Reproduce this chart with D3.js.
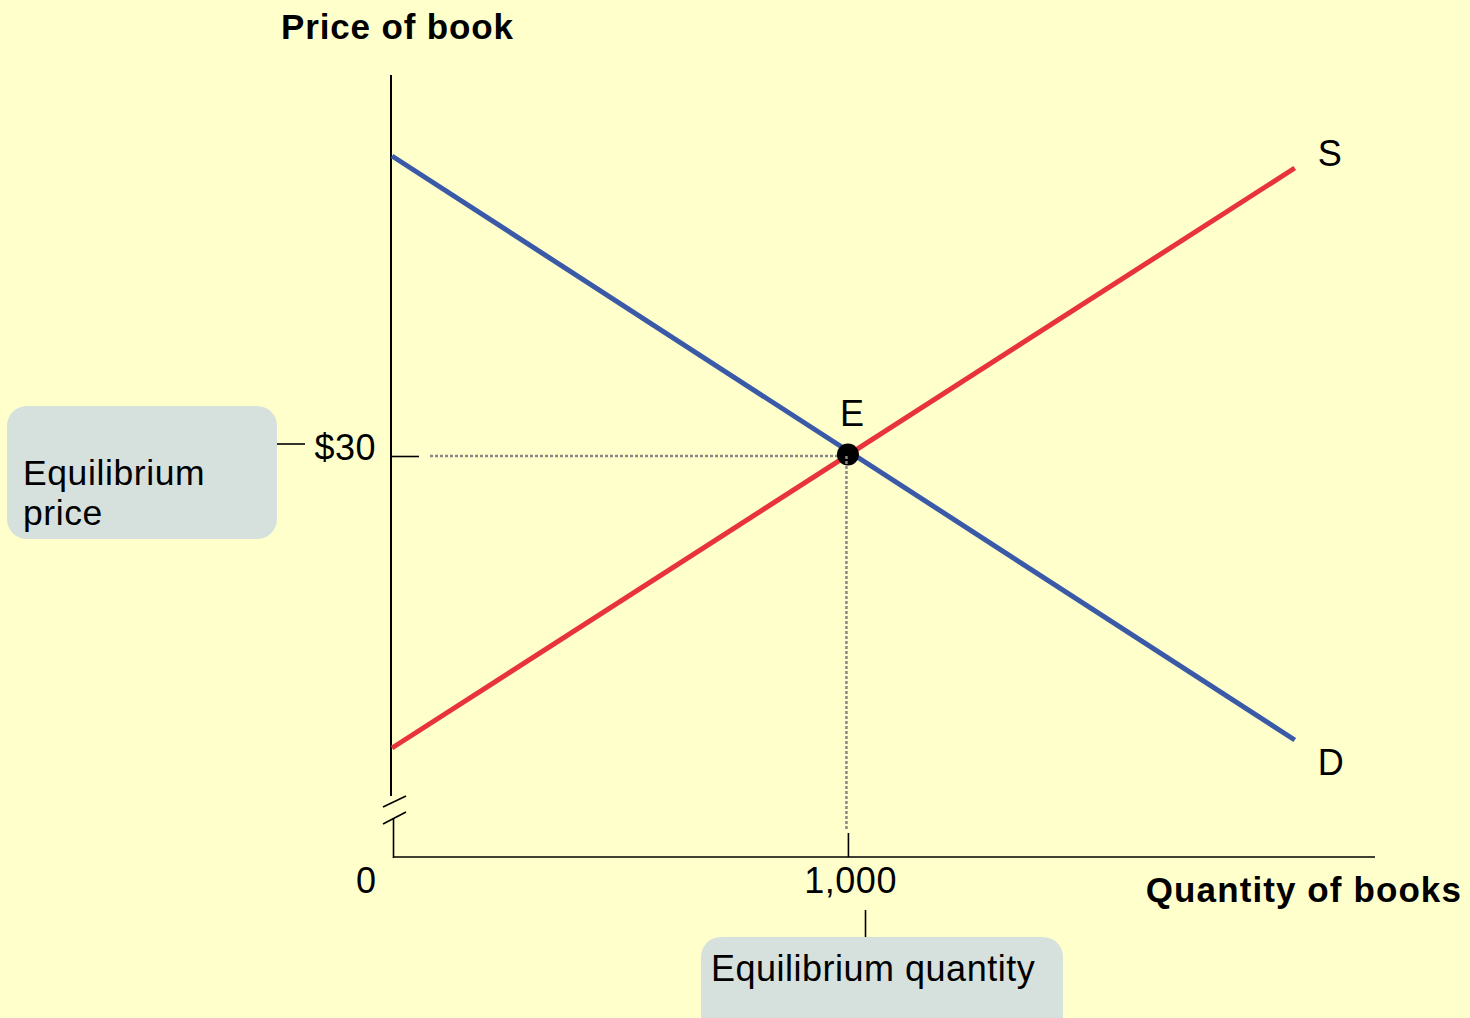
<!DOCTYPE html>
<html>
<head>
<meta charset="utf-8">
<script src="https://cdn.jsdelivr.net/npm/d3@7"></script>
<style>
  html, body { margin: 0; padding: 0; background: #ffffcc; }
  svg { display: block; }
  text { font-family: "Liberation Sans", Arial, Helvetica, sans-serif; }
</style>
</head>
<body>
<svg id="chart" width="1470" height="1018"></svg>
<script>
// ---- data ----
const quantities = [0, 1980];
const demandPrices = [60, 1.6];
const supplyPrices = [0.8, 58.8];
const eqQuantity = 1000;
const eqPrice = 30;
const xTickValues = [1000];
const xTickLabels = ["1,000"];
const yTickValues = [30];
const yTickLabels = ["$30"];
const curveLabels = ["S", "D"];
const axisTitles = ["Price of book", "Quantity of books"];
const calloutLabels = [["Equilibrium", "price"], ["Equilibrium quantity"]];

// ---- layout ----
const W = 1470, H = 1018;
const svg = d3.select("#chart");
svg.append("rect").attr("width", W).attr("height", H).attr("fill", "#ffffcc");

const x = d3.scaleLinear().domain([0, 2156]).range([392, 1375]);
const y = d3.scaleLinear().domain([-10.1, 68.1]).range([857, 75]);
const yAxisX = 391;
const xAxisY = y(-10.1);
const breakY = y(-4);

const FS = 36;
const LS = "0.5px";
const blue = "#3a5aa8", red = "#e8333c";

// y axis (broken)
svg.append("line").attr("x1", yAxisX).attr("x2", yAxisX).attr("y1", y(68.1)).attr("y2", breakY)
  .attr("stroke", "#000").attr("stroke-width", 2);
svg.append("line").attr("x1", yAxisX + 2.5).attr("x2", yAxisX + 2.5).attr("y1", breakY + 22).attr("y2", xAxisY + 1)
  .attr("stroke", "#000").attr("stroke-width", 1.6);
[[-8, 11, 15, 0], [-8, 28, 15, 16]].forEach(b => {
  svg.append("line")
    .attr("x1", yAxisX + b[0]).attr("y1", breakY + b[1])
    .attr("x2", yAxisX + b[2]).attr("y2", breakY + b[3])
    .attr("stroke", "#000").attr("stroke-width", 1.6);
});
// x axis line
svg.append("line").attr("x1", x(0) + 1).attr("x2", x(2156)).attr("y1", xAxisY).attr("y2", xAxisY)
  .attr("stroke", "#000").attr("stroke-width", 1.6);

// axis ticks via d3 axes
const yAxisG = svg.append("g").attr("transform", `translate(${yAxisX},0)`)
  .call(d3.axisLeft(y).tickValues(yTickValues).tickFormat((d, i) => yTickLabels[i]).tickSize(-28).tickPadding(15));
yAxisG.select(".domain").remove();
yAxisG.selectAll(".tick line").attr("stroke", "#000").attr("stroke-width", 1.6);
yAxisG.selectAll(".tick text").attr("font-size", FS).attr("font-family", "Liberation Sans, Arial, sans-serif")
  .attr("letter-spacing", LS).attr("fill", "#000").attr("dy", "0.1em");

const xAxisG = svg.append("g").attr("transform", `translate(0,${xAxisY})`)
  .call(d3.axisBottom(x).tickValues(xTickValues).tickFormat((d, i) => xTickLabels[i]).tickSize(-24).tickPadding(10));
xAxisG.select(".domain").remove();
xAxisG.selectAll(".tick line").attr("stroke", "#000").attr("stroke-width", 1.6);
xAxisG.selectAll(".tick text").attr("font-size", FS).attr("font-family", "Liberation Sans, Arial, sans-serif")
  .attr("letter-spacing", LS).attr("fill", "#000").attr("dx", "0.06em");

svg.append("text").attr("x", x(0) - 26).attr("y", xAxisY + 36).attr("text-anchor", "middle")
  .attr("font-size", FS).text("0");

// axis titles
svg.append("text").attr("x", 281).attr("y", 39).attr("font-size", 35).attr("font-weight", "bold")
  .attr("letter-spacing", "0.85px").text(axisTitles[0]);
svg.append("text").attr("x", 1462).attr("y", 902).attr("text-anchor", "end").attr("font-size", 35)
  .attr("font-weight", "bold").attr("letter-spacing", "1.1px").text(axisTitles[1]);

// dotted guides
const guide = "#888";
svg.append("line").attr("x1", 430).attr("x2", x(eqQuantity) - 1.5).attr("y1", y(eqPrice)).attr("y2", y(eqPrice))
  .attr("stroke", guide).attr("stroke-width", 2.5).attr("stroke-dasharray", "3,2");

// curves
const line = d3.line().x(d => x(d[0])).y(d => y(d[1]));
svg.append("path").datum(quantities.map((q, i) => [q, demandPrices[i]]))
  .attr("d", line).attr("fill", "none").attr("stroke", blue).attr("stroke-width", 5);
svg.append("path").datum(quantities.map((q, i) => [q, supplyPrices[i]]))
  .attr("d", line).attr("fill", "none").attr("stroke", red).attr("stroke-width", 5);

// equilibrium point
svg.append("circle").attr("cx", x(eqQuantity)).attr("cy", y(eqPrice) - 1.5).attr("r", 11).attr("fill", "#000");
svg.append("line").attr("x1", x(eqQuantity) - 1.5).attr("x2", x(eqQuantity) - 1.5)
  .attr("y1", y(eqPrice)).attr("y2", xAxisY - 27)
  .attr("stroke", guide).attr("stroke-width", 2.5).attr("stroke-dasharray", "3,2");

svg.append("text").attr("x", x(eqQuantity) + 4).attr("y", y(eqPrice) - 30).attr("text-anchor", "middle")
  .attr("font-size", FS).text("E");

// curve labels
svg.append("text").attr("x", x(quantities[1]) + 35).attr("y", y(supplyPrices[1]) - 2).attr("text-anchor", "middle")
  .attr("font-size", FS).text(curveLabels[0]);
svg.append("text").attr("x", x(quantities[1]) + 36).attr("y", y(demandPrices[1]) + 35).attr("text-anchor", "middle")
  .attr("font-size", FS).text(curveLabels[1]);

// callouts
const boxFill = "#d6e0dd";
svg.append("rect").attr("x", 7).attr("y", 406).attr("width", 270).attr("height", 133).attr("rx", 20)
  .attr("fill", boxFill);
calloutLabels[0].forEach((s, i) => {
  svg.append("text").attr("x", 23).attr("y", 485 + i * 40).attr("font-size", 35.5)
    .attr("letter-spacing", "0.6px").text(s);
});
svg.append("line").attr("x1", 277).attr("x2", 305).attr("y1", 444).attr("y2", 444)
  .attr("stroke", "#000").attr("stroke-width", 1.6);

svg.append("rect").attr("x", 701).attr("y", 937).attr("width", 362).attr("height", 110).attr("rx", 20)
  .attr("fill", boxFill);
svg.append("text").attr("x", 711).attr("y", 981).attr("font-size", FS).attr("letter-spacing", LS)
  .text(calloutLabels[1][0]);
svg.append("line").attr("x1", 865.5).attr("x2", 865.5).attr("y1", 910).attr("y2", 937)
  .attr("stroke", "#000").attr("stroke-width", 1.6);
</script>
</body>
</html>
